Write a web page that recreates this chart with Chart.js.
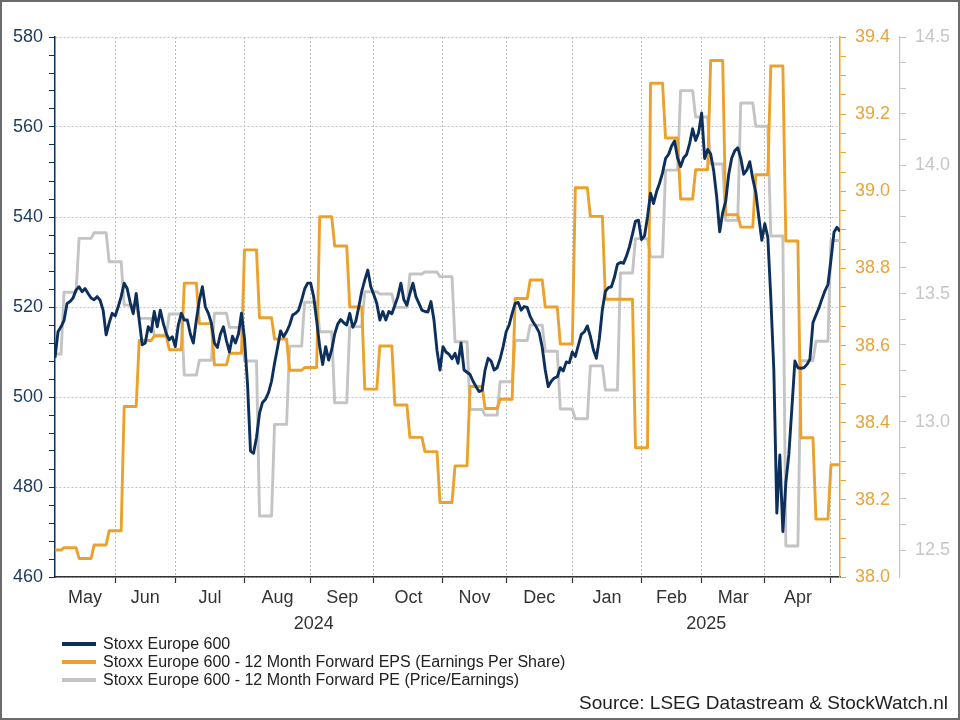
<!DOCTYPE html>
<html>
<head>
<meta charset="utf-8">
<title>Stoxx Europe 600</title>
<script src="https://cdn.jsdelivr.net/npm/chart.js@4.4.1/dist/chart.umd.min.js"></script>
<style>
  body { margin: 0; background: #fff; }
  #wrap { position: relative; width: 960px; height: 720px; font-family: 'Liberation Sans', Arial, sans-serif; }
  #frame { position: absolute; left: 0; top: 0; width: 960px; height: 720px; box-sizing: border-box; border: 2px solid #6a6a6a; pointer-events: none; }
  #legend { position: absolute; left: 62px; top: 635px; font-size: 16px; color: #222; }
  #legend div { height: 18px; line-height: 18px; white-space: nowrap; }
  #legend span.sw { display: inline-block; width: 34px; height: 4px; vertical-align: middle; margin-right: 7px; position: relative; top: -1px; }
  #source { position: absolute; right: 12px; top: 692px; font-size: 19px; color: #222; }
</style>
</head>
<body>
<div id="wrap">
  <canvas id="myChart" width="960" height="720"></canvas>
  <div id="legend"></div>
  <div id="source">Source: LSEG Datastream &amp; StockWatch.nl</div>
  <div id="frame"></div>
</div>
<script>
// trading days from Mon 6 May 2024 (index 0) to Tue 6 May 2025 (index 261)
const stoxx = [
  508.7, 514.5, 515.6, 517.0, 520.8, 521.2, 522.0, 523.8, 524.5, 523.4,
  524.1, 523.0, 522.0, 521.6, 522.3, 521.5, 519.3, 513.8, 516.4, 518.6,
  518.0, 520.0, 522.3, 525.3, 524.1, 521.0, 518.5, 523.0, 517.1, 511.6,
  512.0, 515.6, 514.5, 519.0, 515.6, 519.3, 516.4, 514.1, 512.7, 513.4,
  511.2, 516.0, 518.6, 517.1, 517.1, 514.0, 512.0, 517.1, 521.5, 524.5,
  520.0, 518.6, 516.4, 512.0, 511.0, 514.0, 515.6, 512.5, 510.0, 513.5,
  512.0, 514.0, 518.6, 513.0, 503.0, 488.0, 487.5, 491.0, 496.4, 498.8,
  499.5, 501.0, 503.5, 507.5, 511.0, 514.7, 513.4, 514.5, 516.0, 518.2,
  518.6, 519.3, 521.5, 524.0, 525.3, 525.3, 522.3, 517.0, 511.2, 507.2,
  511.2, 508.2, 510.5, 514.0, 516.2, 517.2, 516.5, 516.0, 518.6, 515.5,
  516.8, 520.0, 523.5, 526.0, 528.2, 524.5, 522.7, 520.8, 517.1, 519.0,
  517.1, 519.0, 518.5, 520.4, 522.3, 525.3, 521.6, 520.4, 523.0, 525.3,
  522.3, 520.8, 519.3, 519.0, 518.9, 521.2, 517.1, 510.4, 506.0, 511.2,
  510.0, 509.5, 508.5, 509.7, 507.5, 512.0, 506.0, 505.5, 505.0, 503.5,
  502.3, 501.2, 501.5, 506.0, 508.6, 508.0, 506.0, 506.5, 508.5, 511.2,
  514.5, 516.0, 518.6, 520.8, 521.0, 519.3, 520.1, 519.9, 517.9, 516.6,
  515.6, 514.3, 511.0, 506.0, 502.3, 503.5, 504.2, 504.5, 506.5, 505.8,
  507.8, 507.6, 510.0, 509.0, 511.5, 513.9, 514.5, 515.8, 513.5, 510.5,
  508.6, 513.0, 519.5, 523.5, 524.3, 524.5, 526.6, 529.5, 529.9, 529.7,
  531.3, 533.4, 536.2, 539.1, 539.3, 535.0, 535.8, 540.0, 545.3, 543.0,
  545.6, 547.5, 549.8, 553.0, 553.9, 555.8, 556.9, 553.1, 551.2, 553.1,
  553.9, 556.3, 559.6, 557.0, 558.8, 563.1, 553.0, 555.0, 554.0, 550.3,
  544.5, 536.7, 541.0, 543.5, 549.5, 553.1, 554.7, 555.4, 553.1, 549.5,
  550.4, 552.3, 548.5, 545.5, 540.0, 534.8, 538.5, 535.5, 522.0, 506.0,
  474.2, 487.1, 470.1, 481.0, 487.3, 497.5, 508.0, 506.5, 506.4, 506.5,
  507.2, 508.4, 516.5, 518.2, 519.8, 521.8, 523.6, 525.0, 530.5, 536.6,
  537.7, 536.8
];

// weekly updated series: first entry covers Mon-Wed, then one value per Thu-Wed week
const epsWeekly = [
  38.070, 38.076, 38.048, 38.083, 38.120, 38.442, 38.613, 38.625, 38.589, 38.762,
  38.657, 38.550, 38.580, 38.848, 38.672, 38.617, 38.536, 38.543, 38.934, 38.858,
  38.700, 38.487, 38.599, 38.446, 38.362, 38.325, 38.193, 38.288, 38.494, 38.437,
  38.461, 38.722, 38.770, 38.700, 38.604, 39.009, 38.935, 38.720, 38.720, 38.335,
  39.280, 39.138, 38.980, 39.056, 39.339, 38.939, 38.907, 39.043, 39.325, 38.871,
  38.361, 38.150, 38.291
];
const peWeekly = [
  13.264, 13.505, 13.715, 13.737, 13.624, 13.455, 13.403, 13.338, 13.420, 13.182,
  13.240, 13.423, 13.368, 13.237, 12.633, 12.990, 13.295, 13.466, 13.351, 13.074,
  13.371, 13.507, 13.498, 13.446, 13.576, 13.584, 13.566, 13.312, 13.048, 13.026,
  13.156, 13.317, 13.377, 13.275, 13.050, 13.012, 13.218, 13.124, 13.580, 13.714,
  13.643, 13.981, 14.291, 14.188, 14.005, 13.785, 14.243, 14.152, 13.724, 12.516,
  13.238, 13.314, 13.707
];

const monthStarts = [0, 20, 40, 63, 85, 106, 129, 150, 172, 195, 215, 236, 258];
const monthNames = ['May', 'Jun', 'Jul', 'Aug', 'Sep', 'Oct', 'Nov', 'Dec', 'Jan', 'Feb', 'Mar', 'Apr'];
const yearStarts = [0, 172, 261];
const yearNames = ['2024', '2025'];

const stoxxTicks = [460, 480, 500, 520, 540, 560, 580];
const epsTicks = ['38.0', '38.2', '38.4', '38.6', '38.8', '39.0', '39.2', '39.4'];
const peTicks = ['12.5', '13.0', '13.5', '14.0', '14.5'];

const navy = '#0c2f5c';
const orange = '#eca12c';
const grey = '#c4c4c4';
const lastDay = stoxx.length - 1;

function expandWeekly(weekly) {
  const out = [];
  weekly.forEach((v, k) => {
    const from = k === 0 ? 0 : 3 + 5 * (k - 1);
    const to = Math.min(3 + 5 * k, stoxx.length);
    for (let i = from; i < to; i++) out.push({ x: i, y: v });
  });
  return out;
}

// minor tick values between the labelled ones
function minorTicks(labels, parts) {
  const vals = labels.map(Number);
  const out = [];
  for (let j = 0; j < vals.length - 1; j++) {
    const step = (vals[j + 1] - vals[j]) / parts;
    for (let p = 0; p < parts; p++) out.push({ value: vals[j] + step * p, label: p === 0 ? labels[j] : '' });
  }
  out.push({ value: vals[vals.length - 1], label: String(labels[labels.length - 1]) });
  return out;
}

const mids = (starts) => starts.slice(0, -1).map((s, i) => (s + starts[i + 1]) / 2);

const datasets = [{
  label: 'Stoxx Europe 600',
  data: stoxx.map((v, i) => ({ x: i, y: v })),
  borderColor: navy,
  yAxisID: 'y'
}, {
  label: 'Stoxx Europe 600 - 12 Month Forward EPS (Earnings Per Share)',
  data: expandWeekly(epsWeekly),
  borderColor: orange,
  yAxisID: 'eps'
}, {
  label: 'Stoxx Europe 600 - 12 Month Forward PE (Price/Earnings)',
  data: expandWeekly(peWeekly),
  borderColor: grey,
  yAxisID: 'pe'
}];
datasets.forEach(d => {
  d.pointRadius = 0;
  d.borderWidth = 2.9;
  d.tension = 0;
  d.xAxisID = 'x';
  d.borderJoinStyle = 'round';
  d.backgroundColor = d.borderColor;
});

const leftTicks = minorTicks(stoxxTicks, 5);
const epsTickList = minorTicks(epsTicks, 4);
const peTickList = minorTicks(peTicks, 5);
const tickFont = { size: 18 };

const config = {
  type: 'line',
  data: { datasets: datasets },
  options: {
    responsive: false,
    animation: false,
    layout: { padding: { top: 37, right: 0, bottom: 81, left: 0 } },
    plugins: { legend: { display: false }, tooltip: { enabled: false } },
    scales: {
      x: {
        type: 'linear', position: 'bottom', weight: 0, min: 0, max: lastDay,
        afterBuildTicks: s => { s.ticks = monthStarts.slice(1).map(v => ({ value: v })); },
        ticks: { display: false },
        grid: { color: '#bdbdbd', lineWidth: 1, tickLength: 6, tickColor: '#333', tickWidth: 1.2 },
        border: { color: '#333', width: 1.5, dash: [2, 2] },
        afterFit: s => { s.height = 8; }
      },
      xMonth: {
        type: 'linear', position: 'bottom', weight: 1, min: 0, max: lastDay,
        afterBuildTicks: s => { s.ticks = mids(monthStarts).map(v => ({ value: v })); },
        ticks: { callback: (v, i) => monthNames[i], color: '#333', font: tickFont, padding: 2, autoSkip: false, maxRotation: 0 },
        grid: { display: false, drawTicks: false },
        border: { display: false },
        afterFit: s => { s.height = 24; }
      },
      xYear: {
        type: 'linear', position: 'bottom', weight: 2, min: 0, max: lastDay,
        afterBuildTicks: s => { s.ticks = mids(yearStarts).map(v => ({ value: v })); },
        ticks: { callback: (v, i) => yearNames[i], color: '#333', font: tickFont, padding: 4, autoSkip: false, maxRotation: 0 },
        grid: { display: false, drawTicks: false },
        border: { display: false },
        afterFit: s => { s.height = 30; }
      },
      y: {
        type: 'linear', position: 'left', min: 460, max: 580,
        afterBuildTicks: s => { s.ticks = leftTicks.map(t => ({ value: t.value })); },
        ticks: { callback: (v, i) => leftTicks[i].label, color: '#1c3a5e', font: tickFont, padding: 6, autoSkip: false },
        grid: {
          color: c => (c.tick && leftTicks[c.index] && leftTicks[c.index].label !== '') ? '#c2c2c2' : 'rgba(0,0,0,0)',
          tickColor: navy, tickLength: 6, lineWidth: 1
        },
        border: { color: navy, width: 1.5, dash: [2, 2] },
        afterFit: s => { s.width = 55; }
      },
      eps: {
        type: 'linear', position: 'right', weight: 0, min: 38, max: 39.4,
        afterBuildTicks: s => { s.ticks = epsTickList.map(t => ({ value: t.value })); },
        ticks: { callback: (v, i) => epsTickList[i].label, color: '#e9a33a', font: tickFont, padding: 9, autoSkip: false },
        grid: { drawOnChartArea: false, tickColor: orange, tickLength: 6 },
        border: { color: orange, width: 1.5 },
        afterFit: s => { s.width = 60; }
      },
      pe: {
        type: 'linear', position: 'right', weight: 1, min: 12.395, max: 14.5,
        afterBuildTicks: s => { s.ticks = peTickList.map(t => ({ value: t.value })); },
        ticks: { callback: (v, i) => peTickList[i].label, color: '#c6c6c6', font: tickFont, padding: 9, autoSkip: false },
        grid: { drawOnChartArea: false, tickColor: grey, tickLength: 6 },
        border: { color: grey, width: 1.2 },
        afterFit: s => { s.width = 60; }
      }
    }
  }
};

Chart.defaults.font.family = "'Liberation Sans', Arial, sans-serif";
const myChart = new Chart(document.getElementById('myChart'), config);

// legend, one row per series
const legend = document.getElementById('legend');
datasets.forEach(d => {
  const row = document.createElement('div');
  const sw = document.createElement('span');
  sw.className = 'sw';
  sw.style.background = d.borderColor;
  row.appendChild(sw);
  row.appendChild(document.createTextNode(d.label));
  legend.appendChild(row);
});
</script>
</body>
</html>
